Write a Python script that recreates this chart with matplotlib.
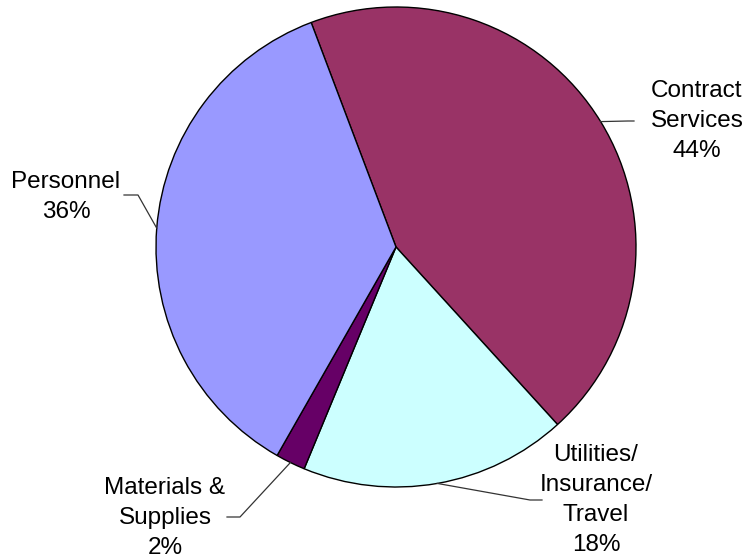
import numpy as np
import matplotlib
matplotlib.use("Agg")
import matplotlib.pyplot as plt

categories = ["Contract\nServices", "Utilities/\nInsurance/\nTravel", "Materials &\nSupplies", "Personnel"]
shares = [44, 18, 2, 36]
colors = ["#993366", "#CCFFFF", "#660066", "#9999FF"]

plt.rcParams["font.family"] = ["Liberation Sans", "DejaVu Sans"]

W, H = 748, 558
fig = plt.figure(figsize=(W / 100, H / 100), dpi=100)
ax = fig.add_axes([0, 0, 1, 1])

cx, cy, r = 396, H - 247, 240
start = 110.7
wedges, _ = ax.pie(shares, colors=colors, startangle=start, counterclock=False,
                   center=(cx, cy), radius=r, frame=True,
                   wedgeprops=dict(edgecolor="black", linewidth=1.0))
ax.set_xlim(0, W)
ax.set_ylim(0, H)
ax.set_aspect("equal")
ax.axis("off")

# label anchor (elbow, end of leader, text centre) in pixel coordinates (y down)
layout = [
    ((628, 121), (634, 121), (697, 121)),
    ((530, 500), (542, 500), (596, 500)),
    ((240, 517), (227, 517), (165, 518)),
    ((138, 195), (124, 195), (66, 197)),
]

for w, label, pct, (elbow, end, txt) in zip(wedges, categories, shares, layout):
    mid = np.deg2rad((w.theta1 + w.theta2) / 2)
    x0, y0 = cx + r * np.cos(mid), cy + r * np.sin(mid)
    xs = [x0, elbow[0], end[0]]
    ys = [y0, H - elbow[1], H - end[1]]
    ax.plot(xs, ys, color="#333333", linewidth=0.9)
    ax.text(txt[0], H - txt[1], f"{label}\n{pct}%", ha="center", va="center",
            fontsize=17.5, linespacing=1.47, color="black")

fig.savefig("out.png", dpi=100)
